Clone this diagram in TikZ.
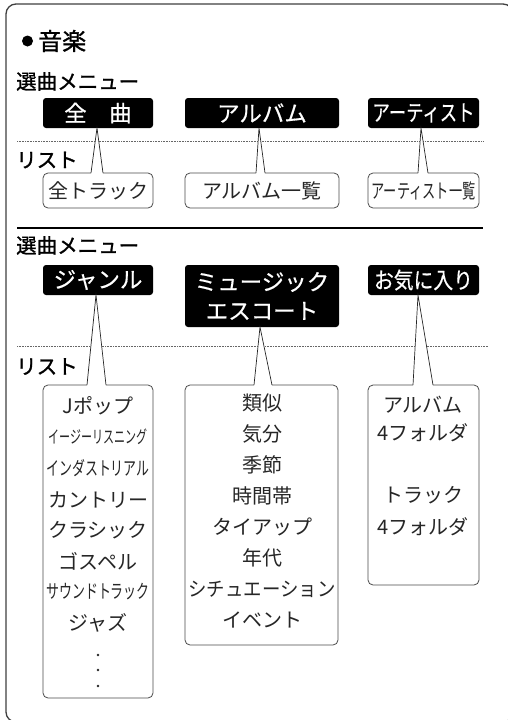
\documentclass[tikz,border=0pt]{standalone}
\usepackage{fontspec}
\usepackage{graphicx}
\newfontfamily\jp{Noto Sans CJK JP}
\newfontfamily\jpb[FakeBold=1.2]{Noto Sans CJK JP}
\newfontfamily\jpm[FakeBold=0.5]{Noto Sans CJK JP}
\usetikzlibrary{calc}
\begin{document}
\begin{tikzpicture}[x=1pt,y=-1pt,
  frame/.style={draw=black!75, line width=1.3pt},
  hdr/.style={anchor=west, inner sep=0pt, font=\jpb\fontsize{20.5}{22}\selectfont},
  blk/.style={fill=black, rounded corners=3pt, text=white, inner sep=0pt, font=\jpm\fontsize{22.5}{30}\selectfont, align=center},
  wbox/.style={draw=black!70, line width=0.8pt, rounded corners=5pt, fill=white, inner sep=0pt, text=black!85, font=\jp\fontsize{20}{22}\selectfont},
  itm/.style={inner sep=0pt, text=black!85, font=\jp\fontsize{20}{22}\selectfont},
  ptr/.style={draw=black!85, line width=0.7pt},
  ptrfill/.style={fill=white},
  dotline/.style={draw=black!60, line width=0.8pt, dash pattern=on 0.8pt off 0.8pt},
  rule/.style={draw=black, line width=1.4pt},
  smalldot/.style={circle, fill=black!85, minimum size=2.6pt, inner sep=0pt},
]
\useasboundingbox (0,0) rectangle (508,720);
\clip (0,0) rectangle (508,720);
\fill[white] (0,0) rectangle (508,720);

% outer frame
\draw[frame, rounded corners=10pt] (6,4) rectangle (513,722);

% title
\node[circle, fill=black, minimum size=11pt, inner sep=0pt] (bul) at (27.5,41) {};
\node[anchor=west, inner sep=0pt, font=\jpb\fontsize{24}{26}\selectfont] (title) at (38,41) {音楽};

% ---------- section 1 ----------
\node[hdr] (menu1) at (16,81.5) {選曲メニュー};
\node[hdr] (list1) at (16,160) {リスト};

\coordinate (d1s) at (17,141); \coordinate (d1e) at (484,141);
\draw[dotline] (d1s) -- (d1e);

\node[blk, minimum width=110pt, minimum height=30pt] (b1) at (98,113) {全　曲};
\node[blk, minimum width=154pt, minimum height=30pt] (b2) at (262,113) {アルバム};
\node[blk, minimum width=111pt, minimum height=30pt] (b3) at (423.5,113) {\scalebox{0.77}[1]{アーティスト}};

\node[wbox, minimum width=110pt, minimum height=35pt] (w1) at (98,190.5) {全トラック};
\node[wbox, minimum width=154pt, minimum height=35pt] (w2) at (262,190.5) {アルバム一覧};
\node[wbox, minimum width=111pt, minimum height=35pt] (w3) at (423.5,190.5) {\scalebox{0.66}[1]{アーティスト一覧}};

% pointers row 1
\coordinate (a1) at (97,128);  \coordinate (l1) at (91,173);  \coordinate (r1) at (103,173);
\coordinate (a2) at (259,128); \coordinate (l2) at (256,173); \coordinate (r2) at (265,173);
\coordinate (a3) at (421,128); \coordinate (l3) at (418,173); \coordinate (r3) at (428,173);
\foreach \i in {1,2,3}{
  \fill[ptrfill] (a\i) -- ($(l\i)+(0,1)$) -- ($(r\i)+(0,1)$) -- cycle;
  \draw[ptr] (l\i) -- (a\i) -- (r\i);
}

\coordinate (rs) at (17,228); \coordinate (re) at (483,228);
\draw[rule] (rs) -- (re);

% ---------- section 2 ----------
\node[hdr] (menu2) at (16,245.5) {選曲メニュー};
\node[hdr] (list2) at (16,366.5) {リスト};

\coordinate (d2s) at (17,346); \coordinate (d2e) at (488,346);
\draw[dotline] (d2s) -- (d2e);

\node[blk, minimum width=110pt, minimum height=30pt] (c1) at (98,280) {ジャンル};
\node[blk, minimum width=154pt, minimum height=62pt] (c2) at (262,296) {ミュージック\\[-1pt]エスコート};
\node[blk, minimum width=111pt, minimum height=30pt] (c3) at (423.5,280) {\scalebox{0.88}[1]{お気に入り}};

\node[wbox, minimum width=110pt, minimum height=313pt] (g) at (98,541.5) {};
\node[wbox, minimum width=153pt, minimum height=260pt] (e) at (261.5,515) {};
\node[wbox, minimum width=111pt, minimum height=200pt] (f) at (423.5,485) {};

% pointers row 2
\coordinate (a4) at (96,295);  \coordinate (l4) at (87,385);  \coordinate (r4) at (106,385);
\coordinate (a5) at (260,327); \coordinate (l5) at (254,385); \coordinate (r5) at (272,385);
\coordinate (a6) at (418,295); \coordinate (l6) at (413,385); \coordinate (r6) at (433,385);
\foreach \i in {4,5,6}{
  \fill[ptrfill] (a\i) -- ($(l\i)+(0,1)$) -- ($(r\i)+(0,1)$) -- cycle;
  \draw[ptr] (l\i) -- (a\i) -- (r\i);
}

% genre list
\node[itm] (g1) at (98,406) {Jポップ};
\node[itm] (g2) at (98,437) {\fontsize{17.5}{18}\selectfont\scalebox{0.63}[1]{イージーリスニング}};
\node[itm] (g3) at (98,468) {\fontsize{19}{20}\selectfont\scalebox{0.68}[1]{インダストリアル}};
\node[itm] (g4) at (98,500) {カントリー};
\node[itm] (g5) at (98,530) {クラシック};
\node[itm] (g6) at (98,561) {ゴスペル};
\node[itm] (g7) at (98,592) {\fontsize{19}{20}\selectfont\scalebox{0.68}[1]{サウンドトラック}};
\node[itm] (g8) at (98,623) {ジャズ};
\node[smalldot] (gd1) at (98,655) {};
\node[smalldot] (gd2) at (98,670) {};
\node[smalldot] (gd3) at (98,686) {};

% escort list
\node[itm] (e1) at (262,403.5) {類似};
\node[itm] (e2) at (262,434) {気分};
\node[itm] (e3) at (262,465) {季節};
\node[itm] (e4) at (262,496) {時間帯};
\node[itm] (e5) at (262,527) {タイアップ};
\node[itm] (e6) at (262,558) {年代};
\node[itm] (e7) at (262,589) {\scalebox{0.92}[1]{シチュエーション}};
\node[itm] (e8) at (262,620) {イベント};

% favourites list
\node[itm] (f1) at (423,405) {アルバム};
\node[itm] (f2) at (423,433) {4フォルダ};
\node[itm] (f3) at (423,495) {トラック};
\node[itm] (f4) at (423,527) {4フォルダ};
\end{tikzpicture}
\end{document}
